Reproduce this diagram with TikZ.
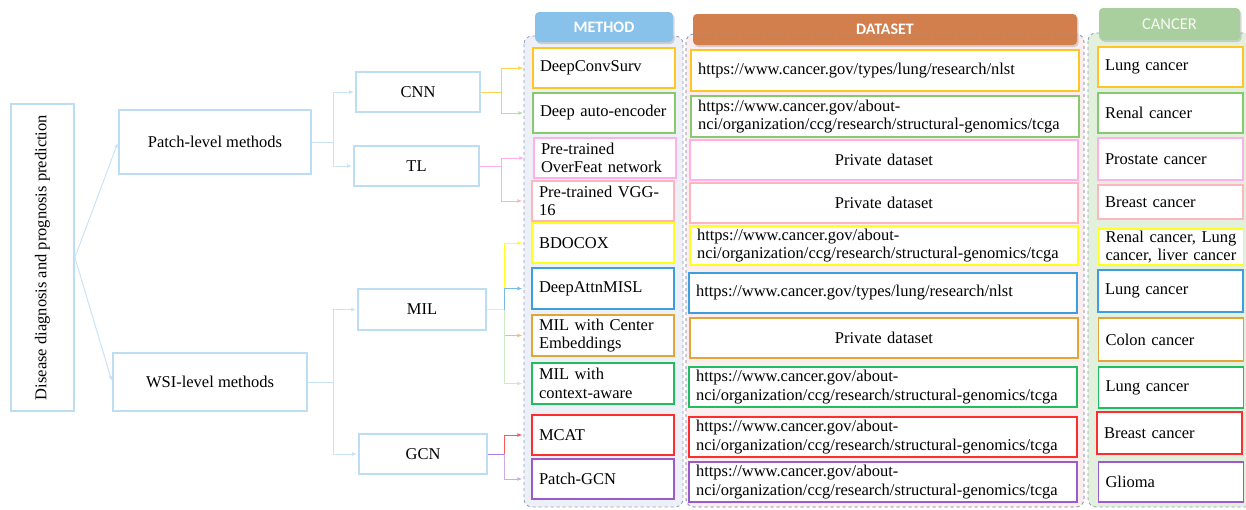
\documentclass[tikz,border=0pt]{standalone}
\usepackage{fontspec}
\setmainfont{Liberation Serif}
\newfontfamily\headfont{Carlito}
\usetikzlibrary{arrows.meta,shadows}

% frame and link colours
\definecolor{boxblue}{HTML}{BDDDF5}
\definecolor{linkblue}{HTML}{C9E3F7}
\definecolor{panelline}{HTML}{8E9DB6}
\definecolor{methodbg}{HTML}{EEF0F8}
\definecolor{databg}{HTML}{FCEEEF}
\definecolor{cancerbg}{HTML}{E3F0DD}
\definecolor{methodhd}{HTML}{88C2EA}
\definecolor{datahd}{HTML}{D37F4D}
\definecolor{cancerhd}{HTML}{AACF9F}
% cell colours, one per row
\definecolor{cAmber}{HTML}{FFC524}
\definecolor{cLime}{HTML}{86C96E}
\definecolor{cRose}{HTML}{FFB0EA}
\definecolor{cSalmon}{HTML}{FFB5BE}
\definecolor{cYellow}{HTML}{FFFF1E}
\definecolor{cSky}{HTML}{3C9EDC}
\definecolor{cGold}{HTML}{E1A63A}
\definecolor{cGreen}{HTML}{20BE60}
\definecolor{cRed}{HTML}{FF2E2E}
\definecolor{cViolet}{HTML}{9C5BCB}

\tikzset{
	treebox/.style={draw=boxblue, line width=1.8pt, fill=white, inner sep=0pt},
	cellbox/.style={draw=#1, line width=1.3pt, fill=white, align=left, inner xsep=7pt, inner ysep=0pt, minimum height=40pt},
	methodcell/.style={cellbox=#1, text width=128pt},
	datacell/.style={cellbox=#1, text width=374pt},
	cancercell/.style={cellbox=#1, text width=131pt},
	colpanel/.style={draw=panelline, dashed, line width=0.8pt, rounded corners=8pt},
	colhead/.style={rounded corners=4pt, text=white, drop shadow={opacity=0.3, shadow xshift=1.5pt, shadow yshift=-2pt},
		font=\headfont\bfseries\fontsize{16pt}{18pt}\selectfont},
	treelink/.style={draw=linkblue, line width=1pt, -{Latex[length=5pt,width=4pt]}, shorten >=1pt},
	celltrunk/.style={draw=#1, line width=1pt},
	celllink/.style={celltrunk=#1, -{Latex[length=5pt,width=4pt]}, shorten >=9pt}
}

\begin{document}
\begin{tikzpicture}[x=1pt,y=-1pt]
		\tikzstyle{every node}=[font=\fontsize{16.5pt}{18.5pt}\selectfont]
		\useasboundingbox (0,0) rectangle (1246,509);
		
		% column panels
		\draw[colpanel, fill=methodbg] (524,36) rectangle (683,507);
		\draw[colpanel, fill=databg] (686,34) rectangle (1084,507);
		\draw[colpanel, fill=cancerbg] (1088,33) rectangle (1256,507);
		
		\node[colhead, fill=methodhd, minimum width=138pt, minimum height=30pt] (hmethod) at (604,27) {METHOD};
		\node[colhead, fill=datahd, minimum width=384pt, minimum height=31pt] (hdata) at (885,29.5) {DATASET};
		\node[colhead, fill=cancerhd, minimum width=141pt, minimum height=32pt, text=white!92!cancerhd,
			font=\headfont\fontsize{16.5pt}{18pt}\selectfont] (hcancer) at (1169.5,24) {CANCER};
		\draw[colpanel, draw opacity=0.6] (686,34) rectangle (1084,507);
		
		% taxonomy tree
		\node[treebox, minimum width=63pt, minimum height=307pt] (root) at (42.5,257.5) {};
		\node[rotate=90] (roottext) at (root.center) {Disease diagnosis and prognosis prediction};
		\node[treebox, minimum width=192pt, minimum height=64pt] (patch) at (215,142) {Patch-level methods};
		\node[treebox, minimum width=194pt, minimum height=58pt] (wsi) at (210,382) {WSI-level methods};
		\node[treebox, minimum width=124pt, minimum height=40pt] (cnn) at (418,92) {CNN};
		\node[treebox, minimum width=125pt, minimum height=40pt] (tl) at (416.5,166) {TL};
		\node[treebox, minimum width=128pt, minimum height=41pt] (mil) at (422,309.5) {MIL};
		\node[treebox, minimum width=128pt, minimum height=40pt] (gcn) at (423,454) {GCN};
		
		\draw[treelink] (root.east) -- (patch.west);
		\draw[treelink] (root.east) -- (wsi.west);
		\coordinate (patchfork) at ([xshift=22pt]patch.east);
		\coordinate (wsifork) at ([xshift=26pt]wsi.east);
		\draw[treelink] (patch.east) -- (patchfork) |- (cnn.west);
		\draw[treelink] (patch.east) -- (patchfork) |- (tl.west);
		\draw[treelink] (wsi.east) -- (wsifork) |- (mil.west);
		\draw[treelink] (wsi.east) -- (wsifork) |- (gcn.west);
		
		% method column
		\node[methodcell=cAmber] (m1) at (604,68) {DeepConvSurv};
		\node[methodcell=cLime] (m2) at (604,113) {Deep auto-encoder};
		\node[methodcell=cRose] (m3) at (605,158) {Pre-trained\\OverFeat network};
		\node[methodcell=cSalmon] (m4) at (603,201) {Pre-trained VGG-\\16};
		\node[methodcell=cYellow] (m5) at (603,243) {BDOCOX};
		\node[methodcell=cSky, minimum height=41pt] (m6) at (603,288.5) {DeepAttnMISL};
		\node[methodcell=cGold, minimum height=41pt] (m7) at (603,335.5) {MIL with Center\\Embeddings};
		\node[methodcell=cGreen, minimum height=41pt] (m8) at (603,383.5) {MIL with\\context-aware};
		\node[methodcell=cRed] (m9) at (603,435) {MCAT};
		\node[methodcell=cViolet] (m10) at (603,479) {Patch-GCN};
		
		% dataset column
		\node[datacell=cAmber, minimum height=41pt] (d1) at (885,70.5) {https://www.cancer.gov/types/lung/research/nlst};
		\node[datacell=cLime, minimum height=41pt] (d2) at (885,116.5) {https://www.cancer.gov/about-\\nci/organization/ccg/research/structural-genomics/tcga};
		\node[datacell=cRose, align=center] (d3) at (884,160) {Private dataset};
		\node[datacell=cSalmon, align=center] (d4) at (884,203) {Private dataset};
		\node[datacell=cYellow, minimum height=39pt] (d5) at (884,245.5) {https://www.cancer.gov/about-\\nci/organization/ccg/research/structural-genomics/tcga};
		\node[datacell=cSky] (d6) at (883,293) {https://www.cancer.gov/types/lung/research/nlst};
		\node[datacell=cGold, align=center] (d7) at (884,338) {Private dataset};
		\node[datacell=cGreen] (d8) at (883,387) {https://www.cancer.gov/about-\\nci/organization/ccg/research/structural-genomics/tcga};
		\node[datacell=cRed] (d9) at (883,437) {https://www.cancer.gov/about-\\nci/organization/ccg/research/structural-genomics/tcga};
		\node[datacell=cViolet] (d10) at (883,482) {https://www.cancer.gov/about-\\nci/organization/ccg/research/structural-genomics/tcga};
		
		% cancer column
		\node[cancercell=cAmber] (c1) at (1170.5,67) {Lung cancer};
		\node[cancercell=cLime] (c2) at (1170.5,113) {Renal cancer};
		\node[cancercell=cRose, minimum height=42pt] (c3) at (1170.5,159) {Prostate cancer};
		\node[cancercell=cSalmon, minimum height=34pt] (c4) at (1170.5,202) {Breast cancer};
		\node[cancercell=cYellow, minimum height=36pt] (c5) at (1171,247) {Renal cancer, Lung\\cancer, liver cancer};
		\node[cancercell=cSky, minimum height=42pt] (c6) at (1170.5,291) {Lung cancer};
		\node[cancercell=cGold, minimum height=43pt] (c7) at (1171,339.5) {Colon cancer};
		\node[cancercell=cGreen, minimum height=41pt] (c8) at (1171,387.5) {Lung cancer};
		\node[cancercell=cRed, minimum height=42pt] (c9) at (1169.5,433) {Breast cancer};
		\node[cancercell=cViolet] (c10) at (1171,482) {Glioma};
		
		% links from sub-families to methods
		\coordinate (cnnfork) at ([xshift=21pt]cnn.east);
		\coordinate (tlfork) at ([xshift=22pt]tl.east);
		\coordinate (milfork) at ([xshift=18pt]mil.east);
		\coordinate (gcnfork) at ([xshift=17pt]gcn.east);
		
		\draw[celllink=cAmber!80] (cnn.east) -- (cnnfork) |- (m1.west);
		\draw[celllink=cLime!60] (cnnfork) |- (m2.west);
		\draw[celllink=cRose] (tl.east) -- (tlfork) |- (m3.west);
		\draw[celllink=cSalmon] (tlfork) |- (m4.west);
		\draw[celllink=cYellow] (mil.east) -- (milfork) |- (m5.west);
		\draw[celllink=cSky!70] (milfork) |- (m6.west);
		\draw[celllink=cGold!70] (milfork) |- (m7.west);
		\draw[celllink=cLime!40] (milfork) |- (m8.west);
		\draw[celltrunk=cViolet!80] (gcn.east) -- (gcnfork);
		\draw[celllink=cRed!80] (gcnfork) |- (m9.west);
		\draw[celllink=cViolet!50] (gcnfork) |- (m10.west);
		
	\end{tikzpicture}
\end{document}
